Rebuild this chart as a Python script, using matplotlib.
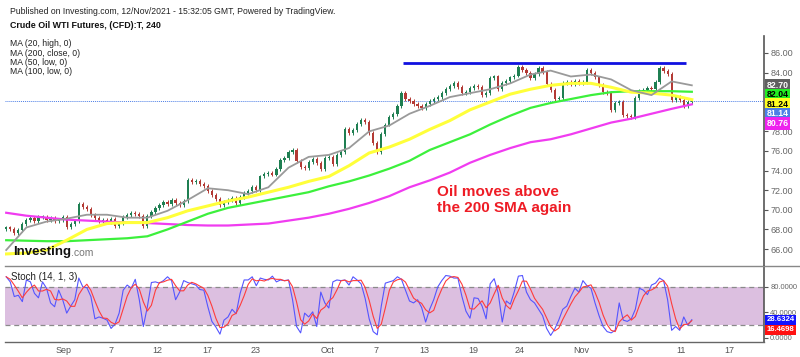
import numpy as np
import pandas as pd
import matplotlib
matplotlib.use("Agg")
import matplotlib.pyplot as plt

plt.rcParams['font.family'] = ['Liberation Sans', 'DejaVu Sans']

# closes, one candle every 8h (Aug 26 .. Nov 12 2021)
closes = [68.2, 68.0, 67.6, 67.9, 68.6, 69.0, 69.2, 68.9, 69.3, 69.3,
          69.0, 69.2, 68.9, 69.0, 69.3, 68.2, 68.6, 68.9, 70.6, 70.3,
          70.1, 69.5, 69.2, 68.9, 69.0, 68.8, 69.1, 68.3, 68.7, 69.3,
          69.5, 69.7, 69.6, 69.4, 68.3, 69.4, 69.8, 70.2, 70.5, 70.8,
          70.6, 71.0, 70.7, 70.5, 70.9, 73.0, 72.8, 72.9, 72.6, 72.4,
          71.9, 71.5, 71.1, 70.5, 70.8, 71.0, 71.2, 70.7, 71.3, 71.7,
          71.9, 72.3, 72.0, 73.4, 73.7, 73.8, 73.6, 74.2, 75.1, 75.3,
          75.9, 76.1, 75.0, 74.4, 74.3, 74.9, 75.2, 74.8, 74.2, 75.3,
          75.4, 74.7, 75.6, 75.9, 78.2, 77.8, 78.1, 78.8, 79.2, 79.0,
          77.8, 76.8, 75.9, 77.7, 78.7, 79.5, 79.8, 80.6, 81.9, 81.3,
          81.1, 80.8, 80.6, 80.4, 80.8, 81.1, 81.3, 81.5, 81.9, 82.3,
          82.6, 82.9, 82.5, 81.9, 82.0, 82.4, 82.6, 82.5, 81.7, 81.9,
          83.4, 83.6, 82.3, 82.9, 83.1, 83.5, 83.7, 84.6, 84.3, 84.0,
          83.4, 83.9, 84.5, 84.1, 82.8, 82.2, 81.3, 81.4, 82.9, 83.0,
          82.8, 83.1, 82.9, 83.0, 84.3, 84.0, 83.5, 82.7, 82.0, 81.9,
          80.2, 80.9, 81.0, 79.7, 79.6, 79.5, 81.4, 82.1, 82.2, 82.4,
          82.3, 83.0, 84.5, 84.2, 83.9, 81.2, 81.5, 81.2, 80.6, 81.0,
          81.14]

# moving averages, sampled every 5 candles
ma20_high = [65.9, 68.2, 68.8, 69.1, 69.5, 69.5, 69.2, 69.2, 69.9, 71.0,
             72.2, 72.0, 71.6, 72.3, 74.3, 75.4, 75.6, 76.3, 78.0, 78.6,
             79.8, 80.6, 81.5, 81.9, 82.3, 82.9, 83.8, 84.2, 83.6, 83.8,
             83.3, 82.2, 81.7, 83.1, 82.7]
ma200_close = [65.5, 65.6, 65.9, 66.9, 68.0, 68.6, 68.7, 68.7, 69.2, 69.9,
               70.4, 70.9, 71.3, 71.8, 72.3, 72.9, 73.4, 74.5, 75.8, 76.4,
               77.2, 78.2, 79.1, 80.2, 81.0, 81.8, 82.3, 82.7, 82.9, 82.9,
               82.5, 82.0, 81.9, 81.7, 81.24]
ma50_low = [66.9, 66.85, 66.8, 66.8, 66.9, 67.0, 67.1, 67.3, 68.0, 68.8,
            69.6, 70.2, 70.6, 71.0, 71.4, 71.8, 72.4, 72.9, 73.5, 74.2,
            75.0, 76.1, 76.9, 77.7, 78.7, 79.6, 80.4, 80.9, 81.3, 81.7,
            82.0, 82.1, 82.1, 82.1, 82.04]
ma100_low = [69.7, 69.4, 69.2, 69.0, 68.9, 68.8, 68.7, 68.65, 68.55, 68.45,
             68.4, 68.4, 68.5, 68.6, 68.9, 69.2, 69.6, 70.1, 70.7, 71.4,
             72.3, 73.0, 73.8, 74.8, 75.6, 76.3, 76.9, 77.2, 77.7, 78.3,
             78.9, 79.3, 79.8, 80.3, 80.76]

# stochastic %K per candle
stoch_k = [96, 88, 65, 67, 57, 91, 88, 70, 63, 88,
           78, 55, 49, 75, 60, 39, 50, 60, 94, 80,
           79, 65, 30, 33, 31, 28, 15, 22, 39, 75,
           83, 78, 92, 60, 18, 49, 87, 88, 86, 90,
           96, 90, 60, 72, 90, 87, 85, 83, 76, 75,
           49, 26, 17, 6, 28, 33, 45, 38, 70, 91,
           91, 96, 82, 94, 92, 91, 97, 88, 91, 90,
           91, 60, 18, 8, 39, 33, 41, 18, 72, 55,
           47, 88, 91, 90, 91, 83, 96, 91, 85, 62,
           30, 10, 5, 50, 86, 88, 90, 96, 92, 75,
           58, 55, 60, 48, 25, 45, 60, 80, 90, 98,
           97, 94, 94, 65, 42, 31, 63, 62, 50, 30,
           85, 93, 70, 25, 58, 53, 73, 97, 98, 72,
           60, 55, 45, 35, 15, 4, 14, 28, 45, 50,
           65, 78, 72, 90, 82, 78, 55, 35, 18, 10,
           8, 12, 55, 28, 26, 30, 45, 78, 75, 68,
           83, 86, 94, 90, 60, 12, 18, 12, 33, 20,
           28.63]

tick_pos = [14.1, 26.0, 37.4, 49.8, 61.9, 79.7, 91.8, 103.7, 115.8, 127.2,
            142.6, 154.7, 167.3, 179.2]
tick_lab = ['Sep', '7', '12', '17', '23', 'Oct', '7', '13', '19', '24',
            'Nov', '5', '11', '17']
price_ticks = [66, 68, 70, 72, 74, 76, 78, 84, 86]

resist_level = 85.0
resist_from, resist_to = 98.5, 168.6
last_price = 81.14

ma_labels = [('82.70', '#5f5f5f', 'white'), ('82.04', '#22ee22', 'black'),
             ('81.24', '#ffff22', 'black'), ('81.14', '#4d7fe6', 'white'),
             ('80.76', '#ee22ee', 'white')]
st_labels = [('28.6324', '#1111ff', 'white'), ('16.4698', '#ff1111', 'white')]

W, H = 800, 357
fig = plt.figure(figsize=(W / 100, H / 100), dpi=100)
ax1 = fig.add_axes([5 / W, (H - 266) / H, 759 / W, 230 / H])
ax2 = fig.add_axes([5 / W, (H - 342) / H, 759 / W, 76 / H])

c = np.array(closes)
o = np.r_[c[0] - 0.2, c[:-1]]
x = np.arange(len(c))
hi = np.maximum(o, c) + 0.2
lo = np.minimum(o, c) - 0.2
up = c >= o
col = np.where(up, '#1f7f52', '#b33a35')
ax1.vlines(x, lo, hi, colors=col, lw=0.7, zorder=3)
body = np.maximum(np.abs(c - o), 0.06)
ax1.bar(x, body, bottom=np.minimum(o, c), width=0.55, color=col, lw=0, zorder=3)

xm = np.arange(0, len(c), 5)
ax1.plot(xm, ma100_low, color='#f03cf0', lw=1.6, zorder=4)
ax1.plot(xm, ma50_low, color='#3cf03c', lw=1.6, zorder=4)
ax1.plot(xm, ma200_close, color='#ffff3a', lw=2.2, zorder=4)
ax1.plot(xm, ma20_high, color='#9a9a9a', lw=1.3, zorder=4)

ax1.hlines(resist_level, resist_from, resist_to, color='#1010e0', lw=2, zorder=5)
ax1.axhline(last_price, color='#4d7fe6', lw=0.7, ls=(0, (1, 1)), zorder=2)

ax1.set_xlim(-0.3, 187.9)
ax1.set_ylim(64.27, 87.73)
ax1.set_yticks(price_ticks)
ax1.set_yticklabels(['%.2f' % v for v in price_ticks])
ax1.set_xticks([])

ax1.text(437, H - 200, 'Oil moves above\nthe 200 SMA again', transform=None,
         fontsize=11, fontweight='bold', color='#ee1c25', va='center',
         linespacing=1.15)

prev = None
for (txt, bg, fg) in ma_labels:
    v = float(txt)
    if prev is not None:
        v = min(v, prev - 0.97)
    prev = v
    ax1.text(1.003, v, txt, transform=ax1.get_yaxis_transform(), fontsize=6.3,
             color=fg, fontweight='bold', va='center', ha='left', zorder=10, clip_on=False,
             bbox=dict(boxstyle='square,pad=0.2', fc=bg, ec='none'))

# stochastic
k = pd.Series(stoch_k, dtype=float)
d = k.rolling(3, min_periods=1).mean()
ax2.axhspan(20, 80, color='#dcbfe0', lw=0, zorder=1)
ax2.axhline(80, color='#8a8a8a', lw=0.9, ls=(0, (4, 3)), zorder=2)
ax2.axhline(20, color='#8a8a8a', lw=0.9, ls=(0, (4, 3)), zorder=2)
ax2.plot(x, k, color='#5555ff', lw=0.8, zorder=3)
ax2.plot(x, d, color='#ff3c3c', lw=0.8, zorder=3)
ax2.set_xlim(-0.3, 187.9)
ax2.set_ylim(-6.3, 112.9)
ax2.set_yticks([0, 40, 80])
ax2.set_yticklabels(['0.0000', '40.0000', '80.0000'])
ax2.set_xticks(tick_pos)
ax2.set_xticklabels(tick_lab)
prev = None
for (txt, bg, fg) in st_labels:
    v = float(txt)
    if prev is not None:
        v = min(v, prev - 15.7)
    prev = v
    ax2.text(1.003, v, txt, transform=ax2.get_yaxis_transform(), fontsize=5.6,
             color=fg, fontweight='bold', va='center', ha='left', zorder=10, clip_on=False,
             bbox=dict(boxstyle='square,pad=0.2', fc=bg, ec='none'))
ax2.text(11, H - 277, 'Stoch (14, 1, 3)', transform=None, fontsize=7, color='#222222', va='center')

for ax in (ax1, ax2):
    ax.set_facecolor('none')
    ax.yaxis.tick_right()
    for s in ('top', 'left'):
        ax.spines[s].set_visible(False)
    ax.spines['right'].set_color('#555555')
    ax.spines['right'].set_linewidth(1.2)
    ax.tick_params(axis='y', colors='#555555', labelcolor='#666666', labelsize=6.5,
                   length=3, width=0.8, pad=2)
    ax.tick_params(axis='x', colors='#555555', labelcolor='#555555', labelsize=6.5,
                   length=0, pad=3)
ax2.tick_params(axis='y', labelsize=5.5, pad=1.5)
ax1.spines['bottom'].set_visible(False)
ax2.spines['bottom'].set_color('#666666')
ax2.spines['bottom'].set_linewidth(1.0)

# separator between panels
fig.add_artist(plt.Line2D([5 / W, 1], [(H - 266) / H] * 2, color='#888888', lw=1.0))

# header
fig.text(10 / W, 1 - 12 / H, 'Published on Investing.com, 12/Nov/2021 - 15:32:05 GMT, Powered by TradingView.',
         fontsize=6.2, color='#222222', va='center')
fig.text(10 / W, 1 - 25 / H, 'Crude Oil WTI Futures, (CFD):T, 240',
         fontsize=6.4, fontweight='bold', color='#111111', va='center')
for j, s in enumerate(['MA (20, high, 0)', 'MA (200, close, 0)', 'MA (50, low, 0)', 'MA (100, low, 0)']):
    fig.text(10 / W, 1 - (44 + 9.3 * j) / H, s, fontsize=6.2, color='#222222', va='center')

t1 = fig.text(13 / W, 1 - 252 / H, 'Investing', fontsize=9.5, fontweight='bold', color='#111111', va='center')
fig.canvas.draw()
bb = t1.get_window_extent()
fig.text(bb.x1 / W, 1 - 253 / H, '.com', fontsize=7.5, color='#777777', va='center')

fig.savefig('out.png', dpi=100)
